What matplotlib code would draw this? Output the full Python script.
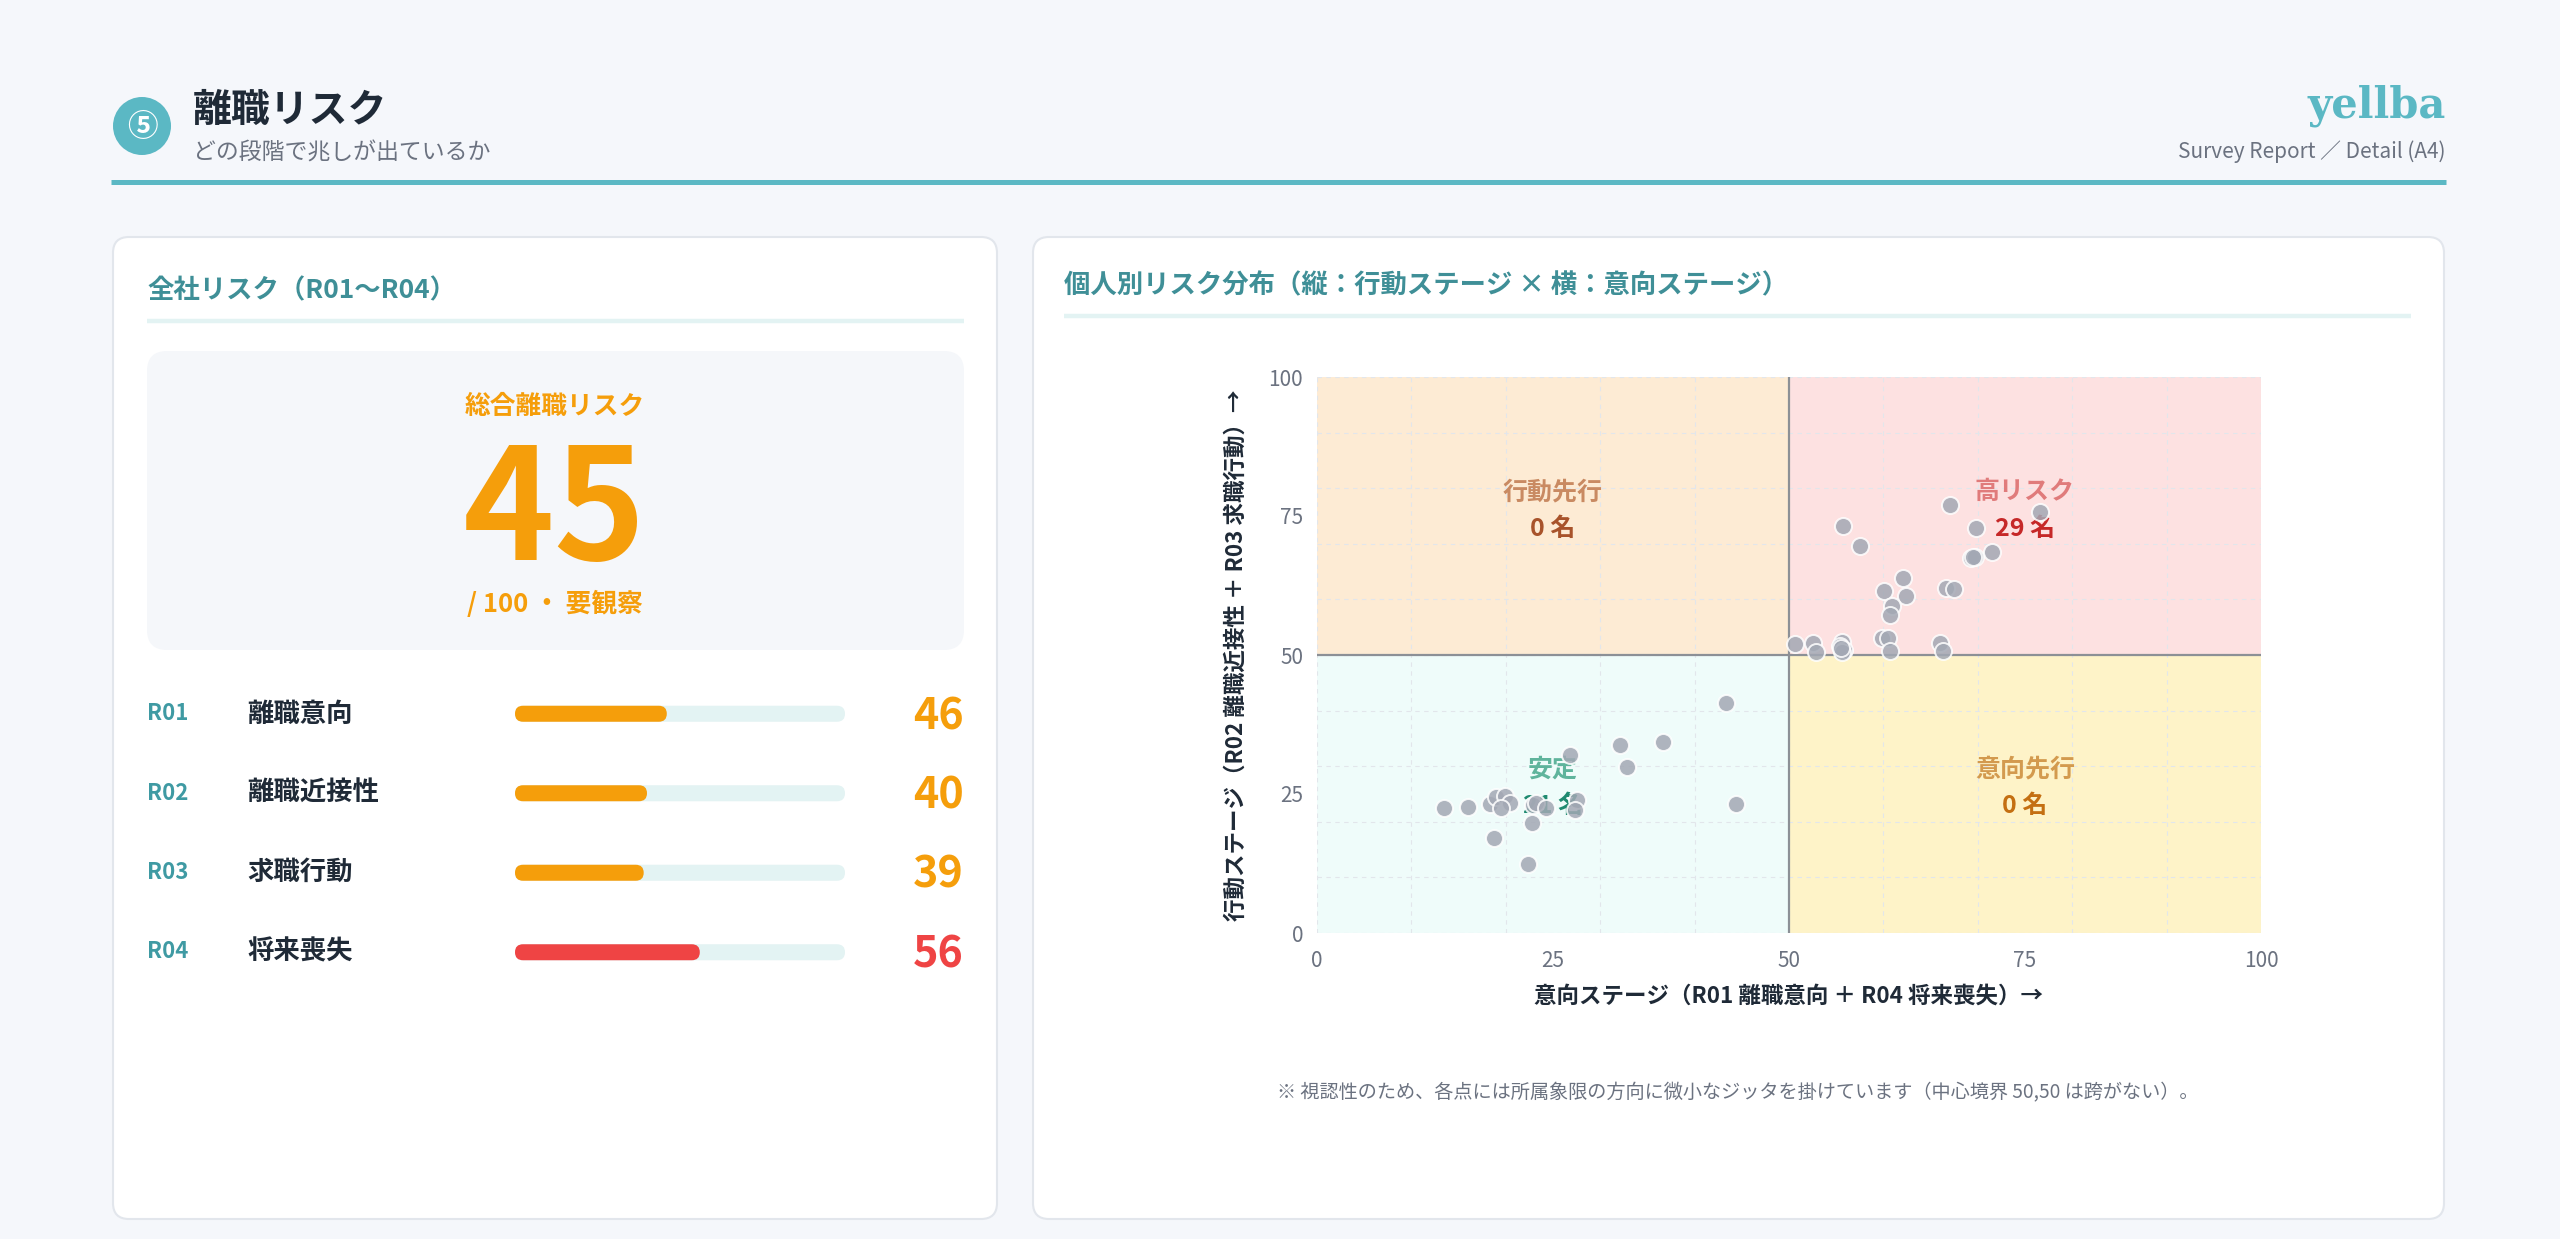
import matplotlib
matplotlib.use("Agg")
import matplotlib.pyplot as plt
from matplotlib.patches import FancyBboxPatch, Rectangle, Circle
from matplotlib.ticker import FixedLocator

plt.rcParams['font.family'] = ['Noto Sans CJK JP', 'DejaVu Sans']

# ---------------- data ----------------
overall_score = 45
overall_label = "/ 100 ・ 要観察"
risk_codes = ["R01", "R02", "R03", "R04"]
risk_names = ["離職意向", "離職近接性", "求職行動", "将来喪失"]
risk_values = [46, 40, 39, 56]

# intention stage (x) / action stage (y) per person
stable_x = [43.3, 32.1, 36.6, 32.8, 26.8, 44.4, 13.5, 16.0, 18.8, 22.3, 22.8,
            18.3, 19.0, 19.9, 20.4, 19.5, 22.9, 23.2, 24.3, 27.5, 27.3]
stable_y = [41.3, 33.8, 34.4, 29.8, 32.0, 23.2, 22.5, 22.7, 17.0, 12.4, 19.8,
            23.2, 24.5, 24.7, 23.3, 22.4, 23.0, 23.3, 22.4, 23.9, 22.1]
high_x = [67.1, 76.6, 69.8, 55.7, 57.5, 71.5, 69.3, 69.7, 62.1, 60.1, 62.4, 66.6, 67.5,
          60.9, 60.7, 50.6, 52.5, 52.9, 55.6, 55.4, 55.8, 55.6, 59.8, 60.5, 60.7,
          66.0, 66.3, 55.5, 69.5]
high_y = [76.9, 75.8, 72.8, 73.2, 69.6, 68.6, 67.4, 67.7, 63.9, 61.6, 60.7, 62.0, 61.8,
          58.9, 57.2, 51.9, 52.2, 50.6, 52.4, 51.6, 50.9, 50.6, 53.0, 53.0, 50.8,
          52.1, 50.8, 51.2, 67.6]
xs = stable_x + high_x
ys = stable_y + high_y

quad_names = ["行動先行", "高リスク", "安定", "意向先行"]
tick_vals = [0, 25, 50, 75, 100]
grid_vals = list(range(0, 101, 10))

# ---------------- colours ----------------
BG = "#f5f7fb"
TEAL = "#5bb8c4"
TEAL_D = "#3f8f97"
DARK = "#1f2a37"
GRAY = "#6b7280"
ORANGE = "#f59e0b"
RED = "#ef4444"
TRACK = "#e3f3f3"

W, H = 2560, 1239
fig = plt.figure(figsize=(W / 100, H / 100), dpi=100, facecolor=BG)

bg = fig.add_axes([0, 0, 1, 1], zorder=0)
bg.set_xlim(0, W)
bg.set_ylim(H, 0)
bg.axis('off')
bg.set_facecolor(BG)

# header
bg.add_patch(Circle((142, 126), 29, fc=TEAL, ec='none'))
bg.text(142, 127, "⑤", color='white', fontsize=22, ha='center', va='center', fontweight='bold')
bg.text(193, 110, "離職リスク", color=DARK, fontsize=28, fontweight='bold', ha='left', va='center')
bg.text(193, 153, "どの段階で兆しが出ているか", color=GRAY, fontsize=16.5, ha='left', va='center')
bg.text(2446, 106, "yellba", color=TEAL, fontsize=30, fontweight='bold', ha='right', va='center',
        family=['DejaVu Serif'])
bg.text(2446, 152, "Survey Report ／ Detail (A4)", color=GRAY, fontsize=15, ha='right', va='center')
bg.plot([111, 2446], [182, 182], color=TEAL, lw=3.6, solid_capstyle='butt')

# cards
for (x0, w) in [(113, 884), (1033, 1411)]:
    bg.add_patch(FancyBboxPatch((x0, 237), w, 982, boxstyle="round,pad=0,rounding_size=16",
                                fc='white', ec='#e2e6ec', lw=1.5))

# left card
bg.text(147, 291, "全社リスク（R01〜R04）", color=TEAL_D, fontsize=19, fontweight='bold',
        ha='left', va='center')
bg.plot([147, 964], [321, 321], color=TRACK, lw=3.2, solid_capstyle='butt')
bg.add_patch(FancyBboxPatch((147, 351), 817, 299, boxstyle="round,pad=0,rounding_size=20",
                            fc='#f5f7fa', ec='none'))
bg.text(555, 406, "総合離職リスク", color=ORANGE, fontsize=18.5, fontweight='bold', ha='center', va='center')
bg.text(555, 514, str(overall_score), color=ORANGE, fontsize=112, fontweight='bold',
        ha='center', va='center')
bg.text(555, 604, overall_label, color=ORANGE, fontsize=18.5, fontweight='bold', ha='center', va='center')

row_px = [714, 793.3, 872.7, 952]
for i, (c, n, v) in enumerate(zip(risk_codes, risk_names, risk_values)):
    col = RED if v >= 50 else ORANGE
    bg.text(147, row_px[i], c, color='#3f9aa3', fontsize=16, fontweight='bold', ha='left', va='center')
    bg.text(247, row_px[i], n, color=DARK, fontsize=19, fontweight='bold', ha='left', va='center')
    bg.text(964, row_px[i] + 2, str(v), color=col, fontsize=31, fontweight='bold', ha='right', va='center')

# bars axes
bx0, bw = 515, 330
btop, bbot = 674, 992
bax = fig.add_axes([bx0 / W, 1 - bbot / H, bw / W, (bbot - btop) / H], zorder=2)
bax.set_xlim(0, 100)
bax.set_ylim(len(risk_values) - 0.5, -0.5)
bax.axis('off')
px_per_x = bw / 100.0
px_per_y = (bbot - btop) / len(risk_values)
bh = 16 / px_per_y
rs = 8 / px_per_x
ma = px_per_x / px_per_y
for i, v in enumerate(risk_values):
    col = RED if v >= 50 else ORANGE
    bax.add_patch(FancyBboxPatch((0, i - bh / 2), 100, bh, boxstyle=f"round,pad=0,rounding_size={rs}",
                                 mutation_aspect=ma, fc=TRACK, ec='none'))
    bax.add_patch(FancyBboxPatch((0, i - bh / 2), v, bh, boxstyle=f"round,pad=0,rounding_size={rs}",
                                 mutation_aspect=ma, fc=col, ec='none'))

# right card
bg.text(1064, 286, "個人別リスク分布（縦：行動ステージ × 横：意向ステージ）", color=TEAL_D, fontsize=19,
        fontweight='bold', ha='left', va='center')
bg.plot([1064, 2411], [316, 316], color=TRACK, lw=3.2, solid_capstyle='butt')
bg.text(1738, 1093, "※ 視認性のため、各点には所属象限の方向に微小なジッタを掛けています（中心境界 50,50 は跨がない）。",
        color=GRAY, fontsize=13.8, ha='center', va='center')

# scatter
ax = fig.add_axes([1317 / W, 1 - 933 / H, 944 / W, 556 / H], zorder=3)
ax.set_xlim(0, 100)
ax.set_ylim(0, 100)
ax.add_patch(Rectangle((0, 50), 50, 50, fc='#fdebd4', ec='none', zorder=0))
ax.add_patch(Rectangle((50, 50), 50, 50, fc='#fde1e1', ec='none', zorder=0))
ax.add_patch(Rectangle((0, 0), 50, 50, fc='#effcfa', ec='none', zorder=0))
ax.add_patch(Rectangle((50, 0), 50, 50, fc='#fef3c8', ec='none', zorder=0))
for sp in ax.spines.values():
    sp.set_visible(False)
ax.xaxis.set_major_locator(FixedLocator(tick_vals))
ax.yaxis.set_major_locator(FixedLocator(tick_vals))
ax.xaxis.set_minor_locator(FixedLocator(grid_vals))
ax.yaxis.set_minor_locator(FixedLocator(grid_vals))
ax.xaxis.remove_overlapping_locs = False
ax.yaxis.remove_overlapping_locs = False
ax.grid(which='minor', color='#e2e6eb', lw=0.8, ls=(0, (4, 4)), zorder=1)
ax.grid(which='major', visible=False)
ax.set_axisbelow(True)
ax.tick_params(which='both', length=0)
ax.tick_params(axis='x', pad=12, labelsize=15, labelcolor=GRAY)
ax.tick_params(axis='y', pad=10, labelsize=15, labelcolor=GRAY)
ax.axvline(50, color='#8c9096', lw=1.6, zorder=2)
ax.axhline(50, color='#8c9096', lw=1.6, zorder=2)

ax.set_xlabel("意向ステージ（R01 離職意向 ＋ R04 将来喪失）→", fontsize=16.2, fontweight='bold',
              color=DARK, labelpad=9)
ax.set_ylabel("行動ステージ（R02 離職近接性 ＋ R03 求職行動）→", fontsize=16.2, fontweight='bold',
              color=DARK, labelpad=15)

# quadrant counts
cnt = [0, 0, 0, 0]
for x, y in zip(xs, ys):
    if y >= 50 and x < 50:
        cnt[0] += 1
    elif y >= 50:
        cnt[1] += 1
    elif x < 50:
        cnt[2] += 1
    else:
        cnt[3] += 1
qpos = [(25, 79.3, 72.6), (75, 79.3, 72.6), (25, 29.4, 22.9), (75, 29.4, 22.9)]
qcol = [("#c98a62", "#a8532b"), ("#e07b7b", "#c62828"), ("#5fb49c", "#1f8a70"), ("#d39a4e", "#c46f12")]
for (qx, qy1, qy2), name, n, (c1, c2) in zip(qpos, quad_names, cnt, qcol):
    ax.text(qx, qy1, name, color=c1, fontsize=18, fontweight='bold', ha='center', va='center', zorder=3)
    ax.text(qx, qy2, f"{n} 名", color=c2, fontsize=18, fontweight='bold', ha='center', va='center', zorder=3)

ax.scatter(xs, ys, s=150, c='#a3a8b4', alpha=0.85, edgecolors='white', linewidths=1.4, zorder=5)

fig.savefig("out.png", dpi=100, facecolor=BG)
